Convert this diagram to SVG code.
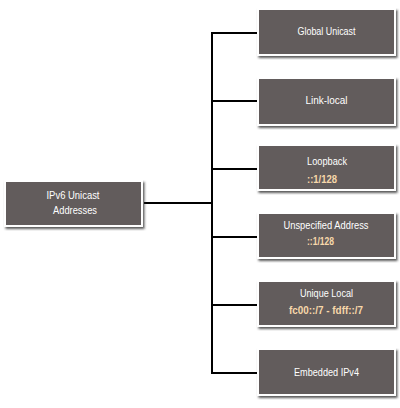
<svg xmlns="http://www.w3.org/2000/svg" width="400" height="408" viewBox="0 0 400 408">
<defs>
<filter id="sh" x="-10%" y="-20%" width="125%" height="150%">
<feDropShadow dx="1.5" dy="2" stdDeviation="1" flood-color="#222" flood-opacity="0.75"/>
</filter>
</defs>
<style>
.box{fill:#625c5c;stroke:#ffffff;stroke-width:2;filter:url(#sh)}
.t{font-family:"Liberation Sans",Arial,sans-serif;font-size:11px;fill:#ffffff;text-anchor:middle}
.v{font-family:"Liberation Sans",Arial,sans-serif;font-size:11px;font-weight:bold;fill:#f7d8aa;text-anchor:middle}
.c{stroke:#000000;stroke-width:2;fill:none}
</style>
<rect width="400" height="408" fill="#ffffff"/>
<g id="connectors">
<line class="c" x1="144" y1="203" x2="212" y2="203"/>
<line class="c" x1="212" y1="32" x2="212" y2="374"/>
<line class="c" x1="211" y1="33" x2="258" y2="33"/>
<line class="c" x1="211" y1="101" x2="258" y2="101"/>
<line class="c" x1="211" y1="169" x2="258" y2="169"/>
<line class="c" x1="211" y1="237" x2="258" y2="237"/>
<line class="c" x1="211" y1="305" x2="258" y2="305"/>
<line class="c" x1="211" y1="373" x2="258" y2="373"/>
</g>
<g id="root">
<rect class="box" x="5" y="181" width="137" height="45"/>
<text class="t" x="73" y="199" textLength="53" lengthAdjust="spacingAndGlyphs">IPv6 Unicast</text>
<text class="t" x="75" y="214" textLength="44" lengthAdjust="spacingAndGlyphs">Addresses</text>
</g>
<g id="global-unicast">
<rect class="box" x="258" y="9" width="137" height="46"/>
<text class="t" x="326.5" y="34.5" textLength="58" lengthAdjust="spacingAndGlyphs">Global Unicast</text>
</g>
<g id="link-local">
<rect class="box" x="258" y="78" width="137" height="47"/>
<text class="t" x="326.5" y="104" textLength="42" lengthAdjust="spacingAndGlyphs">Link-local</text>
</g>
<g id="loopback">
<rect class="box" x="258" y="145" width="137" height="45"/>
<text class="t" x="327" y="165" textLength="40" lengthAdjust="spacingAndGlyphs">Loopback</text>
<text class="v" x="322" y="182.5" textLength="30" lengthAdjust="spacingAndGlyphs">::1/128</text>
</g>
<g id="unspecified">
<rect class="box" x="258" y="213" width="137" height="45"/>
<text class="t" x="326" y="228.5" textLength="85" lengthAdjust="spacingAndGlyphs">Unspecified Address</text>
<text class="v" x="320.5" y="245" textLength="27" lengthAdjust="spacingAndGlyphs">::1/128</text>
</g>
<g id="unique-local">
<rect class="box" x="258" y="281" width="137" height="45"/>
<text class="t" x="326.5" y="297" textLength="53" lengthAdjust="spacingAndGlyphs">Unique Local</text>
<text class="v" x="326" y="313.5" textLength="74" lengthAdjust="spacingAndGlyphs">fc00::/7 - fdff::/7</text>
</g>
<g id="embedded-ipv4">
<rect class="box" x="258" y="349" width="137" height="46"/>
<text class="t" x="326.5" y="375.5" textLength="65" lengthAdjust="spacingAndGlyphs">Embedded IPv4</text>
</g>
</svg>
